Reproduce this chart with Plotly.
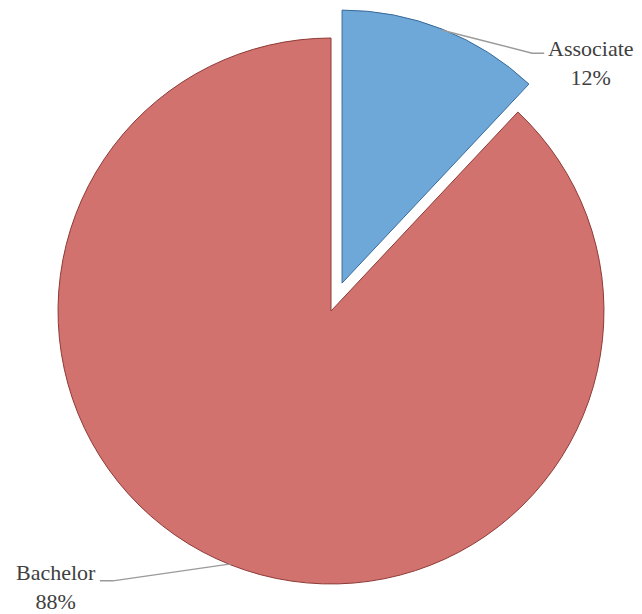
import math
import plotly.graph_objects as go

# ---- data ----
labels = ["Associate", "Bachelor"]
values = [12, 88]
colors = ["#6ea8d9", "#d2726e"]
line_colors = ["#3a6a9a", "#8e3a36"]
pulls = [0.11, 0.0]

W, H = 642, 614
OFF = 8  # browser body margin: page px = figure px + OFF
M_T, M_B, M_L, M_R = 0, 8, 0, 0
PW, PH = W - M_L - M_R, H - M_T - M_B
cx_target = 331 - OFF
box = 606
dom_x = [(cx_target - box / 2) / PW, (cx_target + box / 2) / PW]
dom_y = [0, 1]

fig = go.Figure()
fig.add_trace(go.Pie(
    labels=labels, values=values, sort=False, direction="clockwise", rotation=0,
    pull=pulls, textinfo="none", hoverinfo="label+percent",
    marker=dict(colors=colors, line=dict(color=line_colors, width=1)),
    domain=dict(x=dom_x, y=dom_y), showlegend=False,
))

# ---- geometry (figure pixels) derived from plotly's pie scaling ----
box_w = PW * (dom_x[1] - dom_x[0])
box_h = PH * (dom_y[1] - dom_y[0])
maxpull = max(pulls)
R = min(box_w, box_h) / (2 + 2 * maxpull)
cx = M_L + PW * (dom_x[0] + dom_x[1]) / 2
cy = M_T + PH * (1 - dom_y[0]) - box_h / 2

def to_paper(px, py):
    return (px - M_L) / PW, (H - M_B - py) / PH

total = sum(values)
cum = 0
shapes, annots = [], []
font = dict(family="Liberation Serif", size=22, color="#404040")
for i, (lab, v) in enumerate(zip(labels, values)):
    mid = (cum + v / 2) / total * 2 * math.pi
    cum += v
    ux, uy = math.sin(mid), -math.cos(mid)
    ox, oy = cx + ux * pulls[i] * R, cy + uy * pulls[i] * R
    sx, sy = ox + ux * (R - 1), oy + uy * (R - 1)
    pct = f"{round(v / total * 100)}%"
    if ux >= 0:
        ex, ey = sx + 90, sy + 23
        hx = ex + 12
        anchor, tx = "left", hx + 2
        ty = ey + 10
    else:
        ex, ey = sx - 118, sy + 17
        hx = ex - 13
        anchor, tx = "right", hx - 2
        ty = ey + 6
    p1, p2, p3 = to_paper(sx, sy), to_paper(ex, ey), to_paper(hx, ey)
    shapes.append(dict(type="path", xref="paper", yref="paper",
                       path=f"M{p1[0]},{p1[1]} L{p2[0]},{p2[1]} L{p3[0]},{p3[1]}",
                       line=dict(color="#9a9a9a", width=1.5)))
    tpx, tpy = to_paper(tx, ty)
    annots.append(dict(xref="paper", yref="paper", x=tpx, y=tpy, xanchor=anchor,
                       yanchor="middle", text=f"{lab}<br>{pct}", showarrow=False,
                       align="center", font=font))

fig.update_layout(
    width=W, height=H, margin=dict(t=M_T, b=M_B, l=M_L, r=M_R),
    paper_bgcolor="white", plot_bgcolor="white",
    shapes=shapes, annotations=annots,
)
fig.write_html("out.html")
